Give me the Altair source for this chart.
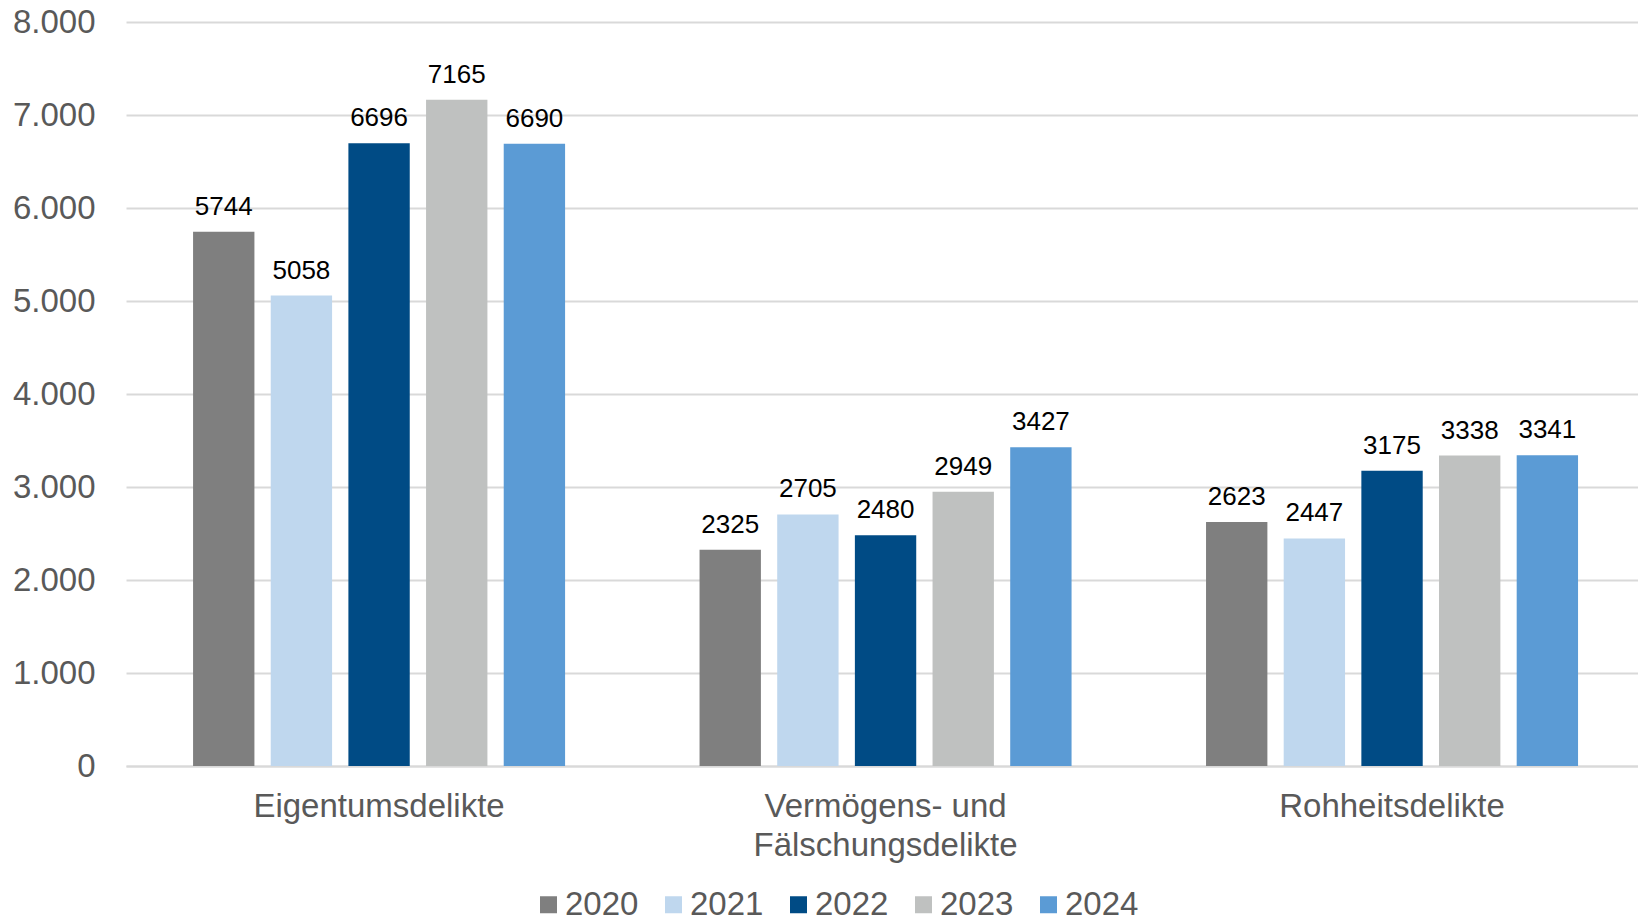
import altair as alt
import pandas as pd

categories = ["Eigentumsdelikte", "Vermögens- und Fälschungsdelikte", "Rohheitsdelikte"]
years = ["2020", "2021", "2022", "2023", "2024"]
v2020 = [5744, 2325, 2623]
v2021 = [5058, 2705, 2447]
v2022 = [6696, 2480, 3175]
v2023 = [7165, 2949, 3338]
v2024 = [6690, 3427, 3341]
colors = ["#7F7F7F", "#BFD7EE", "#004B85", "#BFC1C0", "#5B9BD5"]

series = [v2020, v2021, v2022, v2023, v2024]
rows = []
for yi, yr in enumerate(years):
    for ci, cat in enumerate(categories):
        rows.append({"Kategorie": cat, "Jahr": yr, "Wert": series[yi][ci]})
df = pd.DataFrame(rows)

FONT = "Liberation Sans"

x_scale = alt.Scale(paddingInner=0.2655, paddingOuter=0.1254, align=0.528)

x_enc = alt.X(
    "Kategorie:N",
    sort=categories,
    scale=x_scale,
    axis=alt.Axis(
        title=None,
        labelAngle=0,
        labelFontSize=33,
        labelFont=FONT,
        labelColor="#595959",
        labelPadding=24,
        labelLineHeight=39,
        labelLimit=1000,
        ticks=False,
        domain=True,
        domainColor="#D9D9D9",
        domainWidth=2,
        labelExpr="datum.label == 'Vermögens- und Fälschungsdelikte' ? ['Vermögens- und', 'Fälschungsdelikte'] : datum.label",
    ),
)
xoff = alt.XOffset("Jahr:N", sort=years, scale=alt.Scale(paddingInner=0.21, paddingOuter=0))
y_enc = alt.Y(
    "Wert:Q",
    scale=alt.Scale(domain=[0, 8000]),
    axis=alt.Axis(
        title=None,
        values=[0, 1000, 2000, 3000, 4000, 5000, 6000, 7000, 8000],
        labelExpr="replace(format(datum.value, ','), ',', '.')",
        labelFontSize=33,
        labelFont=FONT,
        labelColor="#595959",
        labelPadding=31,
        ticks=False,
        domain=False,
        grid=True,
        gridColor="#D9D9D9",
        gridWidth=2,
    ),
)

bars = alt.Chart(df).mark_bar().encode(
    x=x_enc,
    xOffset=xoff,
    y=y_enc,
    color=alt.Color(
        "Jahr:N",
        sort=years,
        scale=alt.Scale(domain=years, range=colors),
        legend=alt.Legend(
            title=None,
            orient="none",
            direction="horizontal",
            legendX=406,
            legendY=866,
            symbolType="square",
            symbolSize=289,
            symbolStrokeWidth=0,
            labelFontSize=33,
            labelFont=FONT,
            labelColor="#595959",
            labelOffset=0,
            columnPadding=18,
            padding=0,
        ),
    ),
)

labels = alt.Chart(df).mark_text(
    baseline="alphabetic", dy=-17, fontSize=26, font=FONT, color="#000000"
).encode(
    x=alt.X("Kategorie:N", sort=categories, scale=x_scale),
    xOffset=alt.XOffset("Jahr:N", sort=years),
    y="Wert:Q",
    text=alt.Text("Wert:Q", format="d"),
)

chart = (
    alt.layer(bars, labels)
    .properties(
        width=1512,
        height=744,
        autosize=alt.AutoSizeParams(type="none"),
        padding={"left": 118, "top": 14, "right": 0, "bottom": 152},
        background="#FFFFFF",
    )
    .configure_view(stroke=None)
)

chart.save("out.html", embed_options={"renderer": "svg", "actions": False})
